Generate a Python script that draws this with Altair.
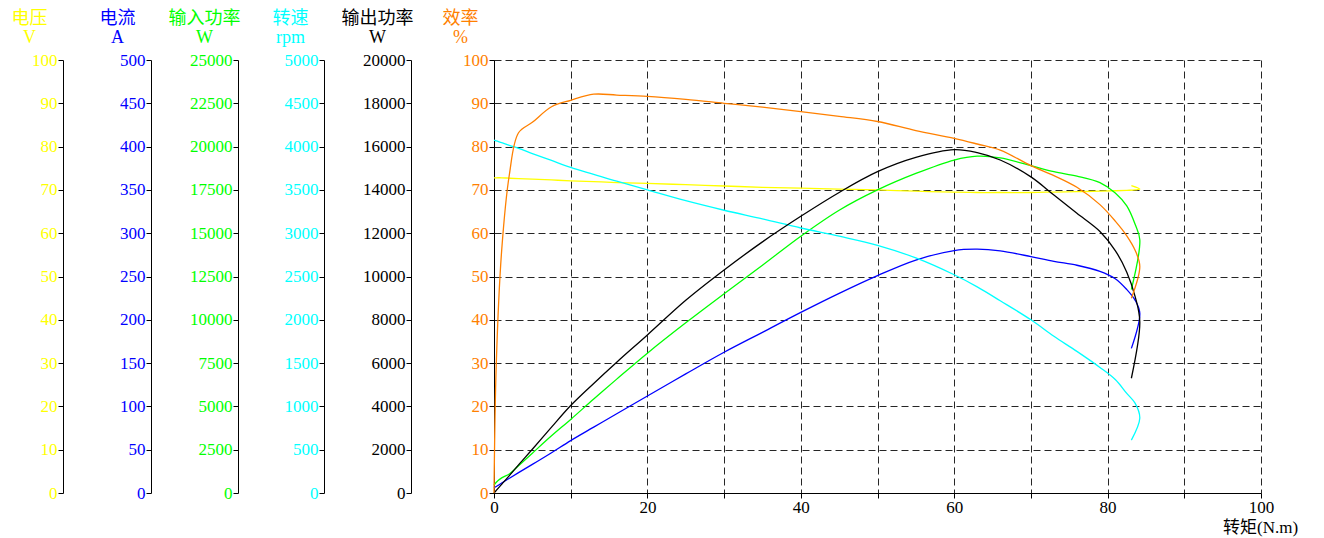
import altair as alt
import pandas as pd

# Torque (N.m) sample points shared by all curves
torque = [0, 0.3, 1, 2, 3.2, 5, 7.5, 10, 13, 16, 20, 25, 30, 35, 40, 45, 50, 55,
          60, 63, 66, 70, 73, 76, 79, 81, 82.5, 83.6, 84.2, 83.1]
# Voltage (V)
voltage = [72.8, 72.8, 72.8, 72.7, 72.6, 72.5, 72.3, 72.1, 71.9, 71.7, 71.5, 71.2,
           70.9, 70.6, 70.4, 70.2, 70.0, 69.7, 69.5, 69.4, 69.4, 69.4, 69.5, 69.6,
           69.7, 69.8, 69.9, 70.0, 70.2, 71.0]
# Current (A)
current = [6, 7.5, 11.5, 17, 23.5, 33, 46.5, 60.5, 76, 91.5, 112, 137.5, 162.5, 185.5,
           208.5, 230.5, 251, 269, 280, 281.5, 279.5, 273, 267.5, 263, 256, 247.5,
           235, 222.5, 207.5, 167]
# Input power (W)
input_power = [450, 625, 875, 1100, 1575, 2300, 3300, 4250, 5425, 6575, 8075, 9825,
               11500, 13150, 14825, 16325, 17500, 18450, 19225, 19450, 19350, 18900,
               18550, 18300, 17925, 17325, 16575, 15500, 14625, 11750]
# Speed (rpm)
speed = [4075, 4065, 4045, 4015, 3980, 3920, 3840, 3760, 3680, 3600, 3500, 3375, 3265,
         3165, 3060, 2965, 2860, 2715, 2520, 2380, 2220, 2000, 1810, 1635, 1450, 1310,
         1150, 1035, 865, 610]
# Output power (W)
output_power = [0, 120, 400, 800, 1300, 2020, 3040, 4040, 5060, 6040, 7300, 8900,
                10300, 11600, 12780, 13880, 14840, 15500, 15860, 15720, 15380, 14600,
                13760, 12920, 12080, 11200, 10200, 9060, 7900, 5300]
# Efficiency (%)
efficiency = [0, 30, 56, 73.5, 83.2, 85.6, 89.2, 90.7, 92.1, 91.9, 91.6, 90.9, 90.0,
              89.1, 88.1, 87.0, 85.8, 83.7, 81.9, 80.6, 79.2, 75.6, 73.3, 70.6, 66.6,
              62.8, 59.4, 56.0, 52.3, 45.0]

df = pd.DataFrame({
    "idx": list(range(len(torque))),
    "torque": torque,
    "voltage": voltage,
    "current": current,
    "input_power": input_power,
    "speed": speed,
    "output_power": output_power,
    "efficiency": efficiency,
})

SERIF = "Liberation Serif"
MIXED = "Liberation Serif, Noto Sans CJK SC"
W, H = 767, 433

x_enc = alt.X(
    "torque:Q",
    scale=alt.Scale(domain=[0, 100], nice=False, zero=False),
    axis=alt.Axis(
        values=list(range(0, 101, 10)),
        labelExpr="datum.value % 20 == 0 ? datum.label : ''",
        title="转矩(N.m)", titleFont=MIXED, titleFontSize=17, titleFontWeight="normal",
        titleColor="black", titleX=766, titleY=39, titleAlign="center",
        titleBaseline="alphabetic",
        labelFont=SERIF, labelFontSize=17, labelColor="black", labelFlush=False,
        labelPadding=1, tickSize=5, tickColor="black", domainColor="black",
        grid=True, gridColor="black", gridDash=[7, 4], gridWidth=1, gridOpacity=0.85,
    ),
)


def layer(field, color, top, step, offset, title, title_color, grid=False):
    axis_kwargs = dict(
        orient="left", offset=offset, values=list(range(0, top + 1, step)), format="d",
        title=title, titleColor=title_color, titleFont=MIXED, titleFontSize=18,
        titleFontWeight="normal", titleAngle=0, titleX=-34, titleY=-37,
        titleAlign="center", titleBaseline="alphabetic", titleLineHeight=19,
        labelFont=SERIF, labelFontSize=17, labelColor=color, labelPadding=1,
        tickSize=5, tickColor="black", domainColor="black", grid=grid,
    )
    if grid:
        axis_kwargs.update(gridColor="black", gridDash=[7, 4], gridWidth=1, gridOpacity=0.85)
    return alt.Chart(df).mark_line(
        color=color, strokeWidth=1.3, interpolate="catmull-rom"
    ).encode(
        x=x_enc,
        y=alt.Y(f"{field}:Q", scale=alt.Scale(domain=[0, top], nice=False, zero=True),
                axis=alt.Axis(**axis_kwargs)),
        order="idx:Q",
    )


chart = alt.layer(
    layer("voltage", "#FFFF00", 100, 10, 431, ["电压", "V"], "#FFFF00"),
    layer("current", "#0000FF", 500, 50, 343, ["电流", "A"], "#0000FF"),
    layer("input_power", "#00FF00", 25000, 2500, 256, ["输入功率", "W"], "#00FF00"),
    layer("speed", "#00FFFF", 5000, 500, 170, ["转速", "rpm"], "#00FFFF"),
    layer("output_power", "#000000", 20000, 2000, 83, ["输出功率", "W"], "#000000"),
    layer("efficiency", "#FF8000", 100, 10, 0, ["效率", "%"], "#FF8000", grid=True),
).resolve_scale(y="independent").properties(
    width=W, height=H,
    autosize=alt.AutoSizeParams(type="none"),
    padding={"left": 486, "top": 52, "right": 50, "bottom": 45},
).configure_view(stroke="transparent")

chart.save("out.html", embed_options={"renderer": "svg", "actions": False})
